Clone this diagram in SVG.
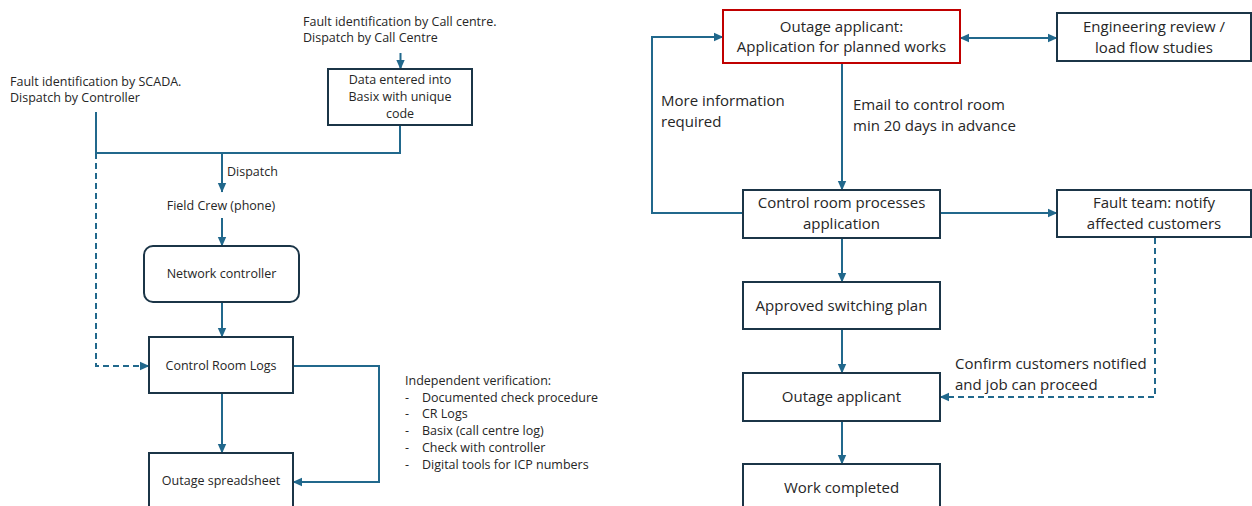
<svg xmlns="http://www.w3.org/2000/svg" width="1252" height="506" viewBox="0 0 1252 506">
<defs>
<marker id="arr" markerUnits="userSpaceOnUse" markerWidth="10" markerHeight="10" viewBox="0 0 10 10" refX="9" refY="5" orient="auto-start-reverse">
<path d="M0,0.8 L9.5,5 L0,9.2 Z" fill="#21688c"/>
</marker>
<style>
.t{font-family:"Open Sans","Liberation Sans",sans-serif;fill:#262626}
.s{font-size:12.5px}
.b{font-size:15px}
.m{text-anchor:middle}
.box{fill:#fff;stroke:#1b3547;stroke-width:2}
.red{fill:#fff;stroke:#c00000;stroke-width:2}
.c{fill:none;stroke:#21688c;stroke-width:2}
.a{marker-end:url(#arr)}
.d{stroke-dasharray:6,4}
</style>
</defs>
<rect width="1252" height="506" fill="#fff"/>
<g id="connectors">
<path class="c" d="M96,112 V153 H400 V125"/>
<path class="c a" d="M222,153 V192"/>
<path class="c d a" d="M96,153 V366 H149"/>
<path class="c a" d="M400.5,53 V69"/>
<path class="c a" d="M222,218 V246"/>
<path class="c a" d="M222,302 V337"/>
<path class="c a" d="M222,393 V453"/>
<path class="c a" d="M293,366 H379 V482 H293"/>
<path class="c a" d="M842,63 V190"/>
<path class="c a" d="M743,213 H652 V37 H723"/>
<path class="c a" d="M960,38 H1057" marker-start="url(#arr)"/>
<path class="c a" d="M940,213 H1057"/>
<path class="c a" d="M842,238 V282"/>
<path class="c a" d="M842,329 V373"/>
<path class="c a" d="M842,421 V464"/>
<path class="c d a" d="M1155,238 V397 H940"/>
</g>
<g id="scada-label">
<text class="t s" x="10" y="86">Fault identification by SCADA.</text>
<text class="t s" x="10" y="102">Dispatch by Controller</text>
</g>
<g id="callcentre-label">
<text class="t s" x="303" y="26">Fault identification by Call centre.</text>
<text class="t s" x="303" y="42">Dispatch by Call Centre</text>
</g>
<g id="data-entered">
<rect class="box" x="328" y="69" width="144" height="56"/>
<text class="t s m" x="400" y="84">Data entered into</text>
<text class="t s m" x="400" y="101">Basix with unique</text>
<text class="t s m" x="400" y="118">code</text>
</g>
<g id="dispatch-label">
<text class="t s" x="227" y="176">Dispatch</text>
</g>
<g id="field-crew">
<text class="t s m" x="221" y="210">Field Crew (phone)</text>
</g>
<g id="network-controller">
<rect class="box" x="144" y="246" width="155" height="56" rx="9"/>
<text class="t s m" x="221.5" y="278">Network controller</text>
</g>
<g id="control-room-logs">
<rect class="box" x="149" y="337" width="144" height="56"/>
<text class="t s m" x="221" y="370">Control Room Logs</text>
</g>
<g id="outage-spreadsheet">
<rect class="box" x="149" y="453" width="144" height="60"/>
<text class="t s m" x="221" y="485">Outage spreadsheet</text>
</g>
<g id="verification">
<text class="t s" x="405" y="385">Independent verification:</text>
<text class="t s" x="405" y="401.5">-</text><text class="t s" x="422" y="401.5">Documented check procedure</text>
<text class="t s" x="405" y="418">-</text><text class="t s" x="422" y="418">CR Logs</text>
<text class="t s" x="405" y="435">-</text><text class="t s" x="422" y="435">Basix (call centre log)</text>
<text class="t s" x="405" y="452">-</text><text class="t s" x="422" y="452">Check with controller</text>
<text class="t s" x="405" y="469">-</text><text class="t s" x="422" y="469">Digital tools for ICP numbers</text>
</g>
<g id="outage-application">
<rect class="red" x="723" y="10" width="237" height="53"/>
<text class="t b m" x="841.5" y="32">Outage applicant:</text>
<text class="t b m" x="841.5" y="52">Application for planned works</text>
</g>
<g id="engineering-review">
<rect class="box" x="1057" y="13" width="194" height="48"/>
<text class="t b m" x="1154" y="32">Engineering review /</text>
<text class="t b m" x="1154" y="53">load flow studies</text>
</g>
<g id="more-info-label">
<text class="t b" x="661" y="106">More information</text>
<text class="t b" x="661" y="127">required</text>
</g>
<g id="email-label">
<text class="t b" x="853" y="110">Email to control room</text>
<text class="t b" x="853" y="131">min 20 days in advance</text>
</g>
<g id="control-room-processes">
<rect class="box" x="743" y="190" width="197" height="48"/>
<text class="t b m" x="841.5" y="208">Control room processes</text>
<text class="t b m" x="841.5" y="229">application</text>
</g>
<g id="fault-team">
<rect class="box" x="1057" y="190" width="194" height="47"/>
<text class="t b m" x="1154" y="208">Fault team: notify</text>
<text class="t b m" x="1154" y="229">affected customers</text>
</g>
<g id="approved-switching-plan">
<rect class="box" x="743" y="282" width="197" height="47"/>
<text class="t b m" x="841.5" y="311">Approved switching plan</text>
</g>
<g id="confirm-label">
<text class="t b" x="955" y="369">Confirm customers notified</text>
<text class="t b" x="955" y="390">and job can proceed</text>
</g>
<g id="outage-applicant">
<rect class="box" x="743" y="373" width="197" height="48"/>
<text class="t b m" x="841.5" y="402">Outage applicant</text>
</g>
<g id="work-completed">
<rect class="box" x="743" y="464" width="197" height="50"/>
<text class="t b m" x="841.5" y="493">Work completed</text>
</g>
</svg>
